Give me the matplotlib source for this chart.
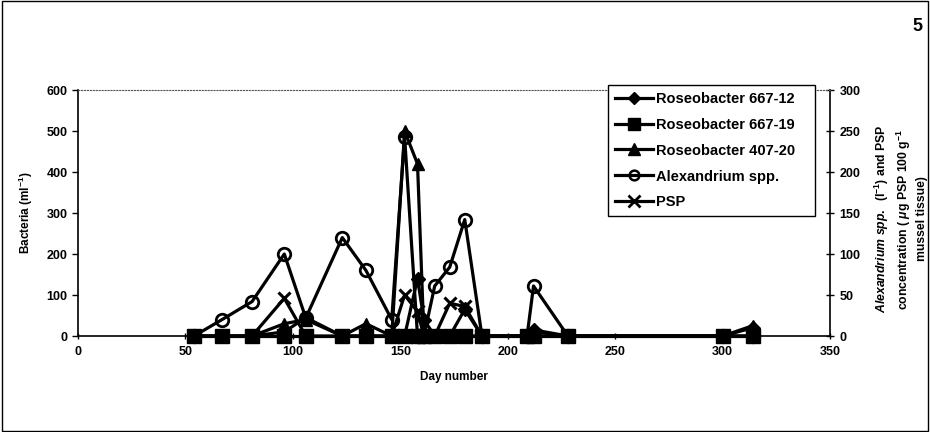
import matplotlib
matplotlib.use("Agg")
import matplotlib.pyplot as plt
from matplotlib.patches import Rectangle
from matplotlib.lines import Line2D

plt.rcParams['font.family'] = ['Liberation Sans', 'DejaVu Sans']
plt.rcParams['font.weight'] = 'bold'
plt.rcParams['mathtext.fontset'] = 'custom'
plt.rcParams['mathtext.rm'] = 'Liberation Sans:bold'
plt.rcParams['mathtext.it'] = 'Liberation Sans:italic:bold'
plt.rcParams['mathtext.bf'] = 'Liberation Sans:bold'

# Sampling days
days = [54, 67, 81, 96, 106, 123, 134, 146, 152, 158, 161, 166, 173, 180, 188, 209, 212, 228, 300, 314]
# Bacteria (ml^-1), left axis
roseo_667_12 = [0, 0, 0, 10, 45, 0, 0, 0, 0, 140, 40, 0, 0, 65, 0, 0, 15, 0, 0, 20]
roseo_667_19 = [0, 0, 0, 0, 0, 0, 0, 0, 0, 0, 0, 0, 0, 0, 0, 0, 0, 0, 0, 0]
roseo_407_20 = [0, 0, 0, 30, 40, 0, 30, 0, 500, 420, 0, 0, 0, 0, 0, 0, 10, 0, 0, 25]
# Right axis
alexandrium = [0, 20, 42, 100, 22, 120, 80, 20, 243, 0, 0, 61, 84, 142, 0, 0, 61, 0, 0, 0]
psp = [0, 0, 0, 46, 0, 0, 0, 0, 50, 30, 0, 0, 40, 36, 0, 0, 0, 0, 0, 0]

xticks = [0, 50, 100, 150, 200, 250, 300, 350]
yticks_left = [0, 100, 200, 300, 400, 500, 600]
yticks_right = [0, 50, 100, 150, 200, 250, 300]

fig = plt.figure(figsize=(9.3, 4.32), dpi=100)
fig.patches.append(Rectangle((0.002, 0.003), 0.996, 0.994, transform=fig.transFigure,
                             fill=False, edgecolor='black', linewidth=1.0))

ax = fig.add_axes([0.0839, 0.2222, 0.8086, 0.5694])
ax2 = ax.twinx()
ax.set_zorder(ax2.get_zorder() + 1)
ax.patch.set_visible(False)

lw = 2.3
ax2.plot(days, alexandrium, color='black', lw=lw, marker='o', ms=9, mfc='none', mew=2.0,
         label='Alexandrium spp.', zorder=3, clip_on=False)
ax2.plot(days, psp, color='black', lw=lw, marker='x', ms=9, mew=2.2, label='PSP', zorder=3,
         clip_on=False)
ax.plot(days, roseo_667_12, color='black', lw=lw, marker='D', ms=7, label='Roseobacter 667-12',
        zorder=3, clip_on=False)
ax.plot(days, roseo_407_20, color='black', lw=lw, marker='^', ms=9, label='Roseobacter 407-20',
        zorder=3, clip_on=False)
ax.plot(days, roseo_667_19, color='black', lw=lw, marker='s', ms=9.5, label='Roseobacter 667-19',
        zorder=4, clip_on=False)

ax.set_xlim(0, 350)
ax.set_ylim(0, 600)
ax2.set_ylim(0, 300)
ax.set_xticks(xticks)
ax.set_yticks(yticks_left)
ax2.set_yticks(yticks_right)
ax.tick_params(axis='both', labelsize=9, width=1, length=4, direction='out')
ax.tick_params(axis='x', direction='inout', length=5, pad=5)
ax2.tick_params(axis='y', labelsize=9, width=1, length=6, direction='inout', pad=4)

ax.spines['top'].set_linestyle(':')
ax.spines['top'].set_color('#555555')
ax2.spines['top'].set_visible(False)
ax.spines['right'].set_visible(False)
ax2.spines['left'].set_visible(False)
ax2.spines['bottom'].set_visible(False)
ax2.spines['right'].set_linewidth(1.2)
ax.spines['left'].set_linewidth(1.2)
ax.spines['bottom'].set_linewidth(1.2)

ax.set_xlabel('Day number', fontsize=8.5, fontweight='bold', labelpad=9)
ax.set_ylabel('Bacteria (ml$^{-1}$)', fontsize=8.5, fontweight='bold', labelpad=8)

fig.text(0.968, 0.493,
         '$\\it{Alexandrium\\ spp.}$  (l$^{-1}$) and PSP\nconcentration ( $\\mu$g PSP 100 g$^{-1}$\nmussel tissue)',
         rotation=90, ha='center', va='center', fontsize=8.8, fontweight='bold',
         multialignment='center', linespacing=1.3)

fig.text(0.992, 0.938, '5', fontsize=13, fontweight='bold', ha='right', va='center')

handles = [
    Line2D([], [], color='black', lw=lw, marker='D', ms=6),
    Line2D([], [], color='black', lw=lw, marker='s', ms=8),
    Line2D([], [], color='black', lw=lw, marker='^', ms=8),
    Line2D([], [], color='black', lw=lw, marker='o', ms=7, mfc='none', mew=1.8),
    Line2D([], [], color='black', lw=lw, marker='x', ms=8, mew=2.0),
]
labels = ['Roseobacter 667-12', 'Roseobacter 667-19', 'Roseobacter 407-20', 'Alexandrium spp.', 'PSP']
leg = ax.legend(handles, labels, loc='upper left', bbox_to_anchor=(0.654, 0.507, 0.222, 0.296),
                bbox_transform=fig.transFigure, mode='expand', fontsize=10.5, frameon=True,
                fancybox=False, edgecolor='black', handlelength=2.6, handletextpad=0.2,
                labelspacing=0.82, borderpad=0.45, borderaxespad=0, framealpha=1)
leg.get_frame().set_linewidth(1.0)
for t in leg.get_texts():
    t.set_fontweight('bold')

fig.savefig('out.png', dpi=100, facecolor='white')
